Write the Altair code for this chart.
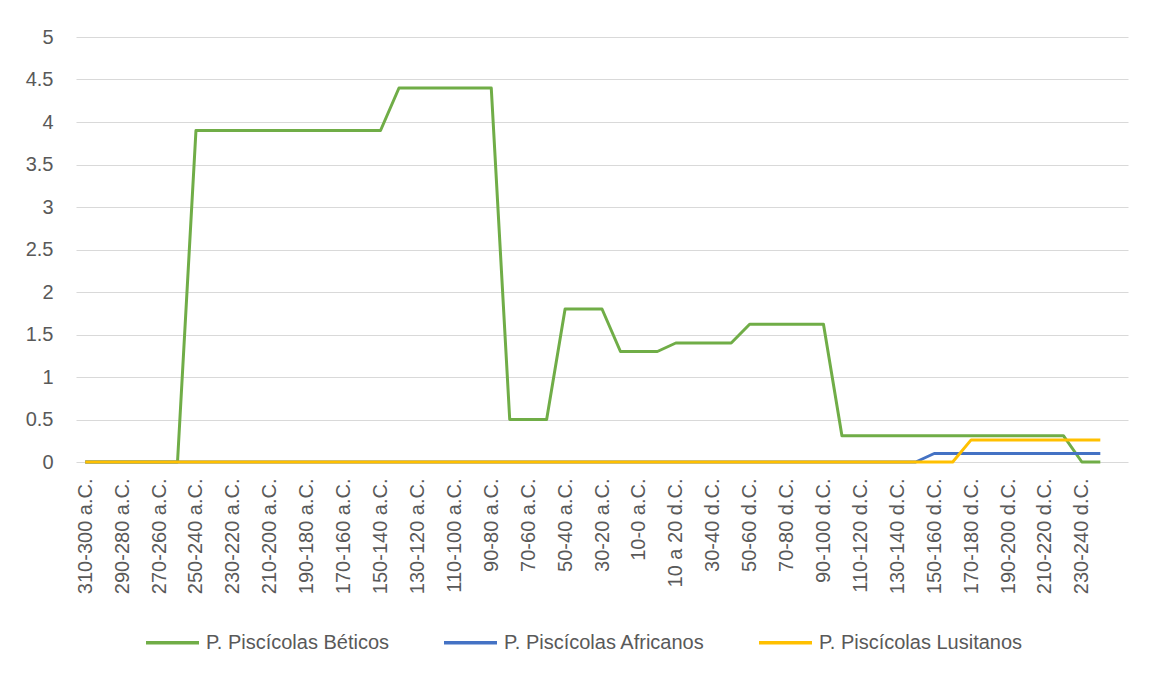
import altair as alt
import pandas as pd

# Category axis (Excel category rows), in display order
periods = [
    "310-300 a.C.", "300-290 a.C.", "290-280 a.C.", "280-270 a.C.", "270-260 a.C.",
    "260-250 a.C.", "250-240 a.C.", "240-230 a.C.", "230-220 a.C.", "220-210 a.C.",
    "210-200 a.C.", "200-190 a.C.", "190-180 a.C.", "180-170 a.C.", "170-160 a.C.",
    "160-150 a.C.", "150-140 a.C.", "140-130 a.C.", "130-120 a.C.", "120-110 a.C.",
    "110-100 a.C.", "100-90 a.C.", "90-80 a.C.", "80-70 a.C.", "70-60 a.C.",
    "60-50 a.C.", "50-40 a.C.", "40-30 a.C.", "30-20 a.C.", "20-10 a.C.",
    "10-0 a.C.", "0-10 d.C.", "10 a 20 d.C.", "20-30 d.C.", "30-40 d.C.",
    "40-50 d.C.", "50-60 d.C.", "60-70 d.C.", "70-80 d.C.", "80-90 d.C.",
    "90-100 d.C.", "100-110 d.C.", "110-120 d.C.", "120-130 d.C.", "130-140 d.C.",
    "140-150 d.C.", "150-160 d.C.", "160-170 d.C.", "170-180 d.C.", "180-190 d.C.",
    "190-200 d.C.", "200-210 d.C.", "210-220 d.C.", "220-230 d.C.", "230-240 d.C.",
    "240-250 d.C.",
]
# Excel leaves one empty trailing category slot
empty_slot = [""]

beticos = [
    0, 0, 0, 0, 0, 0,
    3.9, 3.9, 3.9, 3.9, 3.9, 3.9, 3.9, 3.9, 3.9, 3.9, 3.9,
    4.4, 4.4, 4.4, 4.4, 4.4, 4.4,
    0.5, 0.5, 0.5,
    1.8, 1.8, 1.8,
    1.3, 1.3, 1.3,
    1.4, 1.4, 1.4, 1.4,
    1.62, 1.62, 1.62, 1.62, 1.62,
    0.31, 0.31, 0.31, 0.31, 0.31, 0.31, 0.31, 0.31, 0.31, 0.31, 0.31, 0.31, 0.31,
    0, 0,
]
africanos = [
    0, 0, 0, 0, 0, 0, 0, 0, 0, 0,
    0, 0, 0, 0, 0, 0, 0, 0, 0, 0,
    0, 0, 0, 0, 0, 0, 0, 0, 0, 0,
    0, 0, 0, 0, 0, 0, 0, 0, 0, 0,
    0, 0, 0, 0, 0, 0,
    0.1, 0.1, 0.1, 0.1, 0.1, 0.1, 0.1, 0.1, 0.1, 0.1,
]
lusitanos = [
    0, 0, 0, 0, 0, 0, 0, 0, 0, 0,
    0, 0, 0, 0, 0, 0, 0, 0, 0, 0,
    0, 0, 0, 0, 0, 0, 0, 0, 0, 0,
    0, 0, 0, 0, 0, 0, 0, 0, 0, 0,
    0, 0, 0, 0, 0, 0, 0, 0,
    0.26, 0.26, 0.26, 0.26, 0.26, 0.26, 0.26, 0.26,
]

series_names = ["P. Piscícolas Béticos", "P. Piscícolas Africanos", "P. Piscícolas Lusitanos"]
series_colors = ["#70AD47", "#4472C4", "#FFC000"]
y_ticks = [0, 0.5, 1, 1.5, 2, 2.5, 3, 3.5, 4, 4.5, 5]

rows = []
for name, vals in zip(series_names, [beticos, africanos, lusitanos]):
    for i, (p, v) in enumerate(zip(periods, vals)):
        rows.append({"periodo": p, "orden": i, "serie": name, "valor": v})
df = pd.DataFrame(rows)

FONT = "Liberation Sans"
TXT = "#595959"

chart = alt.Chart(df).mark_line(strokeWidth=3, strokeJoin="round").encode(
    x=alt.X(
        "periodo:N",
        sort=None,
        scale=alt.Scale(domain=periods + empty_slot),
        axis=alt.Axis(
            values=periods[::2], labelAngle=-90, labelAlign="right",
            labelBaseline="middle", labelPadding=16, ticks=False, domain=False,
            grid=False, labelOverlap=False, title=None, labelFontSize=20,
            labelColor=TXT, labelFont=FONT, labelLimit=300,
        ),
    ),
    y=alt.Y(
        "valor:Q",
        scale=alt.Scale(domain=[0, 5], nice=False),
        axis=alt.Axis(
            values=y_ticks, format="~g", ticks=False, domain=False, grid=True,
            gridColor="#D9D9D9", gridWidth=1, labelPadding=23, labelFontSize=20,
            labelColor=TXT, labelFont=FONT, title=None,
        ),
    ),
    color=alt.Color(
        "serie:N",
        scale=alt.Scale(domain=series_names, range=series_colors),
        legend=alt.Legend(
            title=None, orient="none", legendX=68, legendY=577,
            direction="horizontal", symbolType="stroke", symbolSize=2809,
            symbolStrokeWidth=3.5, labelFontSize=20, labelFont=FONT,
            labelColor=TXT, columnPadding=47, labelOffset=5, padding=0,
            labelLimit=400,
        ),
    ),
    order=alt.Order("orden:Q"),
).properties(
    width=1052,
    height=425,
    autosize=alt.AutoSizeParams(type="none"),
    padding={"left": 68, "top": 29, "right": 16, "bottom": 200},
    background="white",
).configure_view(stroke=None).configure_legend(symbolStrokeWidth=3.5)

chart.save("out.html", embed_options={"renderer": "svg", "actions": False})
